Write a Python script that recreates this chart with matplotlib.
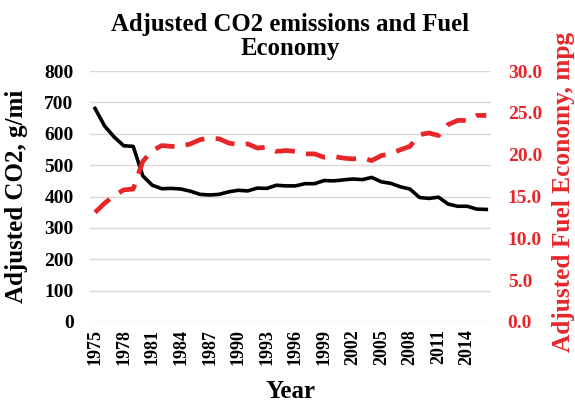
import matplotlib.pyplot as plt
import numpy as np

years = list(range(1975, 2017))
co2 = [681, 625, 590, 562, 560, 466, 436, 425, 426, 424, 417, 407, 405, 407,
       415, 420, 418, 427, 426, 436, 434, 434, 441, 441, 451, 450, 453, 456,
       454, 461, 447, 442, 431, 424, 397, 394, 398, 376, 369, 369, 360, 359]
mpg = [13.1, 14.2, 15.1, 15.8, 15.9, 19.2, 20.5, 21.1, 21.0, 21.0, 21.3, 21.8,
       22.0, 21.9, 21.4, 21.2, 21.3, 20.8, 20.9, 20.4, 20.5, 20.4, 20.1, 20.1,
       19.7, 19.8, 19.6, 19.5, 19.6, 19.3, 19.9, 20.1, 20.6, 21.0, 22.4, 22.6,
       22.3, 23.6, 24.1, 24.1, 24.7, 24.7]
tick_years = list(range(1975, 2015, 3))

plt.rcParams['font.family'] = ['Liberation Serif', 'DejaVu Serif']
plt.rcParams['font.weight'] = 'bold'
red = '#e8262a'

fig = plt.figure(figsize=(5.75, 4.04), dpi=100)
ax = fig.add_axes([0.157, 0.203, 0.697, 0.621])
ax2 = ax.twinx()

x = np.arange(len(years))
ax.plot(x, co2, color='black', lw=2.6, zorder=3)
ax2.plot(x, mpg, color=red, lw=3.4, dashes=(4.2, 2.4), zorder=3)

ax.set_xlim(-0.5, len(years) - 0.5)
ax.set_ylim(0, 800)
ax.set_yticks(range(0, 801, 100))
ax2.set_ylim(0, 30)
ax2.set_yticks(np.arange(0, 31, 5))
ax2.set_yticklabels([f'{v:.1f}' for v in np.arange(0, 31, 5)])

ax.set_xticks([years.index(y) for y in tick_years])
ax.set_xticklabels([str(y) for y in tick_years], rotation=90, fontsize=13, fontweight='bold')
ax.grid(axis='y', color='#d9d9d9', lw=1)
ax.set_axisbelow(True)

for a in (ax, ax2):
    for s in a.spines.values():
        s.set_visible(False)
    a.tick_params(length=0)

ax.tick_params(axis='y', labelsize=14, pad=12)
ax.tick_params(axis='x', pad=5)
ax2.tick_params(axis='y', labelsize=14, labelcolor=red, pad=12)
for t in ax.get_yticklabels() + ax2.get_yticklabels():
    t.set_fontweight('bold')

ax.set_ylabel('Adjusted CO2, g/mi', fontsize=18, fontweight='bold')
ax.yaxis.set_label_coords(-0.155, 0.5)
ax2.set_ylabel('Adjusted Fuel Economy, mpg', fontsize=18.3, fontweight='bold', color=red)
ax2.yaxis.set_label_coords(1.153, 0.52)
ax.set_xlabel('Year', fontsize=18, fontweight='bold')
ax.xaxis.set_label_coords(0.5, -0.23)
fig.text(0.505, 0.968, 'Adjusted CO2 emissions and Fuel\nEconomy', ha='center', va='top',
         fontsize=17.8, fontweight='bold', linespacing=1.05)

fig.savefig('out.png', dpi=100)
